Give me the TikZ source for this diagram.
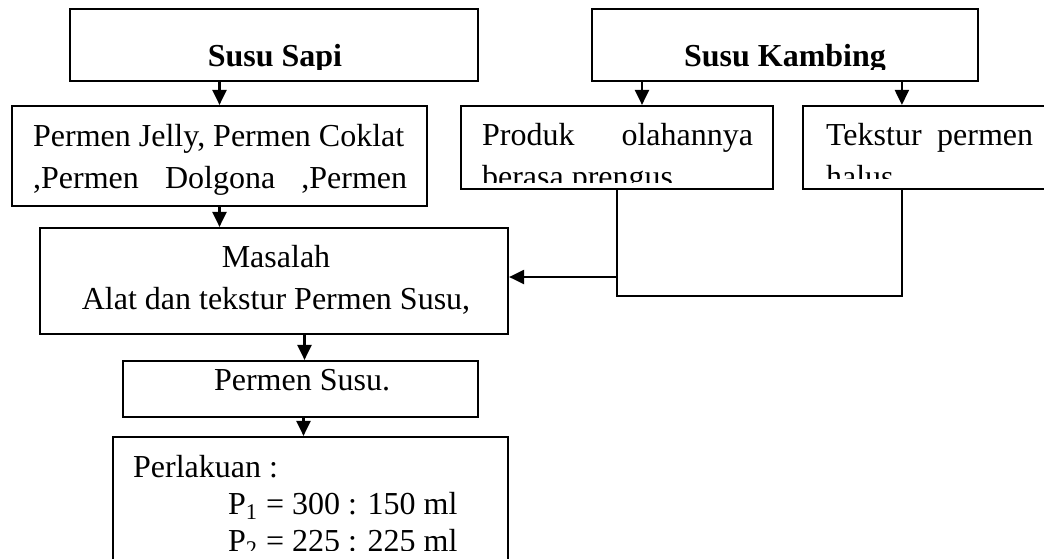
\documentclass[tikz,border=0pt]{standalone}
\usepackage{fontspec}
\setmainfont{Liberation Serif}
\usetikzlibrary{calc,arrows.meta,fit}

\begin{document}
\begin{tikzpicture}[x=0.5pt,y=-0.5pt,>={Triangle[length=7.5pt,width=7pt]},line width=1.1pt,
  box/.style={draw,inner sep=0pt,fit={#1}},
  txt/.style={inner sep=0pt,anchor=base west,font=\fontsize{16pt}{21pt}\selectfont},
  title/.style={inner sep=0pt,anchor=base,font=\fontsize{16pt}{21pt}\selectfont\bfseries}]
  \useasboundingbox (0,0) rectangle (1044,558);
  \clip (0,0) rectangle (1044,558);
  \node[box={(70,9) (478,81)}] (sapi) {};
  \node[box={(592,9) (978,81)}] (kambing) {};
  \node[box={(12,106) (427,206)}] (jelly) {};
  \node[box={(461,106) (773,189)}] (produk) {};
  \node[box={(803,106) (1054,189)}] (tekstur) {};
  \node[box={(40,228) (508,334)}] (masalah) {};
  \node[box={(123,361) (478,417)}] (susu) {};
  \node[box={(113,437) (508,590)}] (perlakuan) {};
  \begin{scope}
    \clip (sapi.north west) rectangle (kambing.east |- 0,69);
    \node[title] (sapitxt) at (275,66) {Susu Sapi};
    \node[title] (kambingtxt) at (785,66) {Susu Kambing};
  \end{scope}
  \node[txt,align=left] (jellytxt) at (32,188) {Permen Jelly, Permen Coklat\\\makebox[187pt][s]{,Permen Dolgona ,Permen}};
  \begin{scope}
    \clip (produk.north west) rectangle (produk.east |- 0,182);
    \node[txt,align=left] (produktxt) at (481,187) {\makebox[135.5pt][s]{Produk olahannya}\\berasa prengus};
  \end{scope}
  \begin{scope}
    \clip (tekstur.north west) rectangle (tekstur.east |- 0,178);
    \node[txt,align=left] (teksturtxt) at (825,187) {\makebox[103.5pt][s]{Tekstur permen}\\halus};
  \end{scope}
  \node[txt,anchor=base,align=center] (masalahtxt) at (276,309) {Masalah\\Alat dan tekstur Permen Susu,};
  \node[txt,anchor=base] (susutxt) at (302,390) {Permen Susu.};
  \begin{scope}
    \clip (perlakuan.north west) rectangle (perlakuan.east |- 0,550);
    \node[txt,align=left,font=\fontsize{16pt}{18.5pt}\selectfont] (perlakuantxt) at (132,551)
      {Perlakuan :\\\hspace*{47.5pt}P\textsubscript{1} = 300 : 150 ml\\\hspace*{47.5pt}P\textsubscript{2} = 225 : 225 ml};
  \end{scope}

  \draw[->] (jelly.north |- sapi.south) -- (jelly.north);
  \draw[->] (jelly.south) -- (jelly.south |- masalah.north);
  \coordinate (pk) at ($(produk.north)+(25,0)$);
  \coordinate (tk) at ($(tekstur.north west)+(100,0)$);
  \draw[->] (pk |- kambing.south) -- (pk);
  \draw[->] (tk |- kambing.south) -- (tk);
  \coordinate (join) at (produk.south |- 0,296);
  \draw (produk.south) -- (join) -- (join -| tk) -- (tk |- tekstur.south);
  \coordinate (tap) at (produk.south |- 0,277);
  \draw[->] (tap) -- (tap -| masalah.east);
  \coordinate (ms) at ($(susu.north)+(4,0)$);
  \draw[->] (ms |- masalah.south) -- (ms);
  \coordinate (sp) at ($(susu.south)+(3,0)$);
  \draw[->] (sp) -- (sp |- perlakuan.north);
\end{tikzpicture}
\end{document}
